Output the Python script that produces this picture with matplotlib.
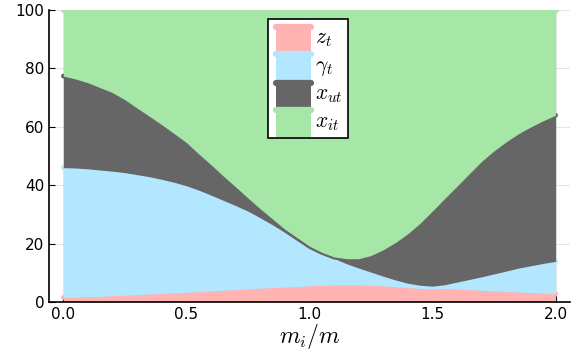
import numpy as np
import matplotlib
matplotlib.use("Agg")
import matplotlib.pyplot as plt
from matplotlib.patches import Rectangle
from matplotlib.lines import Line2D
from matplotlib.legend_handler import HandlerBase

plt.rcParams["mathtext.fontset"] = "cm"

# x axis: m_i / m
x = [0.00, 0.05, 0.10, 0.15, 0.20, 0.25, 0.30, 0.35, 0.40, 0.45,
     0.50, 0.55, 0.60, 0.65, 0.70, 0.75, 0.80, 0.85, 0.90, 0.95,
     1.00, 1.05, 1.10, 1.15, 1.20, 1.25, 1.30, 1.35, 1.40, 1.45,
     1.50, 1.55, 1.60, 1.65, 1.70, 1.75, 1.80, 1.85, 1.90, 1.95, 2.00]

# shares in percent, stacked bottom to top
z_t = [1.5, 1.6, 1.8, 1.9, 2.1, 2.3, 2.5, 2.7, 2.9, 3.1,
       3.3, 3.5, 3.8, 4.0, 4.2, 4.5, 4.7, 4.9, 5.1, 5.3,
       5.5, 5.7, 5.8, 5.8, 5.8, 5.7, 5.5, 5.2, 4.9, 4.6,
       4.5, 4.6, 4.4, 4.2, 4.0, 3.8, 3.6, 3.4, 3.2, 3.0, 2.8]
gamma_t = [44.5, 44.3, 43.8, 43.3, 42.7, 42.0, 41.1, 40.2, 39.1, 37.9,
           36.5, 34.8, 32.8, 30.8, 28.8, 26.6, 24.1, 21.5, 18.7, 15.7,
           12.8, 10.9, 9.1, 7.3, 5.8, 4.5, 3.3, 2.3, 1.5, 1.1,
           0.9, 1.3, 2.4, 3.5, 4.6, 5.8, 7.0, 8.2, 9.2, 10.2, 11.1]
x_ut = [31.4, 30.5, 29.5, 28.2, 26.9, 25.0, 22.8, 20.7, 18.7, 16.7,
        14.8, 12.4, 10.4, 8.3, 6.4, 4.5, 3.1, 2.0, 1.1, 1.0,
        0.8, 0.4, 0.5, 1.7, 3.2, 5.7, 9.1, 12.9, 17.0, 21.3,
        25.8, 29.6, 32.9, 36.3, 39.6, 42.2, 44.3, 46.1, 47.6, 48.9, 50.1]
x_it = [22.6, 23.6, 24.9, 26.6, 28.3, 30.7, 33.6, 36.4, 39.3, 42.3,
        45.4, 49.3, 53.0, 56.9, 60.6, 64.4, 68.1, 71.6, 75.1, 78.0,
        80.9, 83.0, 84.6, 85.2, 85.2, 84.1, 82.1, 79.6, 76.6, 73.0,
        68.8, 64.5, 60.3, 56.0, 51.8, 48.2, 45.1, 42.3, 40.0, 37.9, 36.0]

labels = [r"$z_t$", r"$\gamma_t$", r"$x_{ut}$", r"$x_{it}$"]
colors = ["#ffb3b3", "#b3e6ff", "#666666", "#a6e6a6"]


class AreaHandler(HandlerBase):
    # filled box with a thick round-capped line on top, like the area legend
    def create_artists(self, legend, orig_handle, xdescent, ydescent,
                       width, height, fontsize, trans):
        c = orig_handle.get_color()
        x0, y0 = -xdescent, -ydescent - 0.2 * height
        h = height * 1.1
        rect = Rectangle((x0 + 2, y0), width - 4, h, facecolor=c,
                         edgecolor="none", transform=trans)
        line = Line2D([x0 + 2, x0 + width - 2], [y0 + h, y0 + h], color=c,
                      lw=4.5, solid_capstyle="round", transform=trans)
        return [rect, line]


fig = plt.figure(figsize=(5.71, 3.62), dpi=100)
ax = fig.add_axes([0.086, 0.166, 0.912, 0.806])

lower = np.zeros(len(x))
for i, s in enumerate([z_t, gamma_t, x_ut, x_it]):
    upper = lower + np.array(s)
    ax.fill_between(x, lower, upper, color=colors[i], linewidth=0, zorder=2 + 2 * i)
    ax.plot(x, upper, color=colors[i], lw=3.5, solid_capstyle="round", zorder=3 + 2 * i)
    lower = upper

ax.set_xlim(-0.058, 2.058)
ax.set_ylim(0, 100)
ax.set_xticks([0.0, 0.5, 1.0, 1.5, 2.0])
ax.set_yticks([0, 20, 40, 60, 80, 100])
ax.grid(True, color="black", alpha=0.1, lw=0.8, zorder=0)
ax.set_axisbelow(True)
for side in ["top", "right"]:
    ax.spines[side].set_visible(False)
ax.spines["left"].set_linewidth(1.2)
ax.spines["bottom"].set_linewidth(1.2)
ax.tick_params(direction="in", length=4, labelsize=11, colors="black")
ax.set_xlabel(r"$m_i/m$", fontsize=17, labelpad=0)

handles = [Line2D([], [], color=c) for c in colors]
leg = fig.legend(handles, labels, loc="upper left", bbox_to_anchor=(0.469, 0.948),
                 borderaxespad=0, fontsize=15.5, frameon=True, fancybox=False,
                 edgecolor="black", framealpha=1, handlelength=1.9,
                 handleheight=1.35, labelspacing=0.12, handletextpad=0.05,
                 borderpad=0.25, handler_map={Line2D: AreaHandler()})
leg.get_frame().set_linewidth(1.2)

fig.savefig("out.png", dpi=100)
